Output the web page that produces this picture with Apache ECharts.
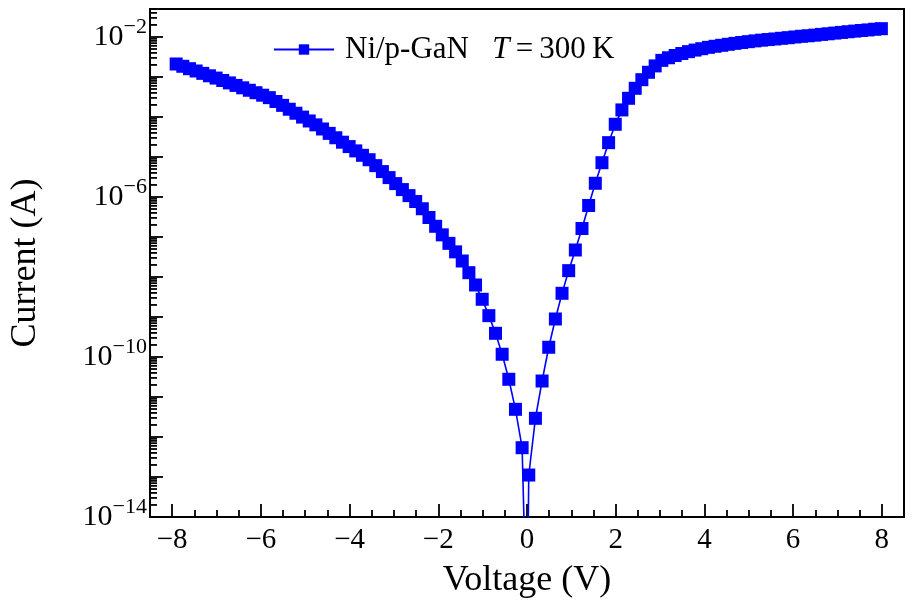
<!DOCTYPE html>
<html>
<head>
<meta charset="utf-8">
<script src="https://cdn.jsdelivr.net/npm/echarts@6/dist/echarts.min.js"></script>
<style>
html, body { margin: 0; padding: 0; background: #fff; }
#ivChart { width: 913px; height: 609px; }
</style>
</head>
<body>
<div id="ivChart"></div>
<script>
// Ni/p-GaN I-V curve at 300 K
const voltage = [
    -7.91, -7.76, -7.61, -7.46, -7.31, -7.16, -7.01, -6.86, -6.71, -6.56,
    -6.41, -6.26, -6.11, -5.96, -5.81, -5.66, -5.51, -5.36, -5.21, -5.06,
    -4.91, -4.76, -4.61, -4.46, -4.31, -4.16, -4.01, -3.86, -3.71, -3.56,
    -3.41, -3.26, -3.11, -2.96, -2.81, -2.66, -2.51, -2.36, -2.21, -2.06,
    -1.91, -1.76, -1.61, -1.46, -1.31, -1.16, -1.01, -0.86, -0.71, -0.56,
    -0.41, -0.26, -0.11, 0,
    0.04, 0.19, 0.34, 0.49, 0.64, 0.79, 0.94, 1.09, 1.24, 1.39,
    1.54, 1.69, 1.84, 1.99, 2.14, 2.29, 2.44, 2.59, 2.74, 2.89,
    3.04, 3.19, 3.34, 3.49, 3.64, 3.79, 3.94, 4.09, 4.24, 4.39,
    4.54, 4.69, 4.84, 4.99, 5.14, 5.29, 5.44, 5.59, 5.74, 5.89,
    6.04, 6.19, 6.34, 6.49, 6.64, 6.79, 6.94, 7.09, 7.24, 7.39,
    7.54, 7.69, 7.84, 7.99
];
const current = [
    2.11e-3, 1.85e-3, 1.61e-3, 1.41e-3, 1.23e-3, 1.07e-3, 9.38e-4, 8.17e-4, 7.10e-4, 6.15e-4,
    5.35e-4, 4.65e-4, 4.04e-4, 3.50e-4, 3.04e-4, 2.44e-4, 1.95e-4, 1.56e-4, 1.24e-4, 9.93e-5,
    7.94e-5, 6.35e-5, 5.01e-5, 3.89e-5, 3.02e-5, 2.34e-5, 1.82e-5, 1.42e-5, 1.10e-5, 8.53e-6,
    6.07e-6, 4.31e-6, 3.05e-6, 2.16e-6, 1.53e-6, 1.08e-6, 7.69e-7, 5.08e-7, 3.07e-7, 1.85e-7,
    1.13e-7, 6.93e-8, 4.25e-8, 2.51e-8, 1.28e-8, 6.31e-9, 2.77e-9, 1.08e-9, 3.91e-10, 1.17e-10,
    2.77e-11, 4.92e-12, 5.40e-13, 1e-17,
    1.12e-13, 2.93e-12, 2.51e-11, 1.75e-10, 8.91e-10, 3.91e-9, 1.44e-8, 4.73e-8, 1.63e-7, 6.12e-7,
    2.20e-6, 7.19e-6, 2.28e-5, 6.56e-5, 1.50e-4, 2.93e-4, 5.21e-4, 8.55e-4, 1.31e-3, 1.89e-3,
    2.60e-3, 3.02e-3, 3.44e-3, 3.86e-3, 4.29e-3, 4.70e-3, 5.09e-3, 5.50e-3, 5.85e-3, 6.19e-3,
    6.56e-3, 6.92e-3, 7.28e-3, 7.62e-3, 7.98e-3, 8.32e-3, 8.61e-3, 8.91e-3, 9.27e-3, 9.59e-3,
    1.00e-2, 1.04e-2, 1.07e-2, 1.11e-2, 1.16e-2, 1.20e-2, 1.25e-2, 1.30e-2, 1.35e-2, 1.40e-2,
    1.45e-2, 1.50e-2, 1.56e-2, 1.61e-2
];
const xTickLabels = [-8, -6, -4, -2, 0, 2, 4, 6, 8];
const yLabelExponents = [-14, -10, -6, -2];
const decadeExponents = [-14, -13, -12, -11, -10, -9, -8, -7, -6, -5, -4, -3, -2];
const minorMultipliers = [2, 3, 4, 5, 6, 7, 8, 9];

const xMin = -8.5, xMax = 8.5;
const yMin = 1e-14, yMax = 0.05;
const serif = '"Liberation Serif", "DejaVu Serif", serif';

let points = voltage.map((v, i) => [v, current[i]]);

// log minor ticks (2..9 x 10^n) on the left axis
let minorTicks = [];
decadeExponents.forEach(n => {
    minorMultipliers.forEach(k => {
        let v = k * Math.pow(10, n);
        if (v < yMax) minorTicks.push([xMin, v]);
    });
});

function minus(s) {
    return String(s).replace('-', '\u2212');
}

let myChart = echarts.init(document.getElementById('ivChart'));
let option = {
    animation: false,
    backgroundColor: '#fff',
    grid: {
        left: 150, right: 9, top: 9, bottom: 92,
        containLabel: false,
        outerBoundsMode: 'none',
        show: true,
        borderColor: '#000',
        borderWidth: 2
    },
    legend: {
        data: ['Ni/p-GaN'],
        left: 268,
        top: 29,
        itemWidth: 60,
        itemHeight: 13,
        formatter: function () {
            return 'Ni/p-GaN   {it|T}{n|\u2009=\u2009300\u2009K}';
        },
        textStyle: {
            fontFamily: serif,
            fontSize: 31,
            color: '#000',
            padding: [0, 0, 0, 6],
            rich: {
                it: { fontFamily: serif, fontSize: 31, fontStyle: 'italic', color: '#000' },
                n: { fontFamily: serif, fontSize: 31, color: '#000' }
            }
        }
    },
    xAxis: {
        type: 'value',
        min: xMin,
        max: xMax,
        splitNumber: 8,
        name: 'Voltage (V)',
        nameLocation: 'middle',
        nameGap: 46,
        nameTextStyle: { fontFamily: serif, fontSize: 36, color: '#000' },
        axisLine: { onZero: false, lineStyle: { color: '#000', width: 2 } },
        axisTick: { inside: true, length: 13, lineStyle: { color: '#000', width: 1.8 } },
        minorTick: { show: true, splitNumber: 4, length: 7, lineStyle: { color: '#000', width: 1.8 } },
        splitLine: { show: false },
        axisLabel: {
            margin: 9,
            showMinLabel: false,
            showMaxLabel: false,
            fontFamily: serif,
            fontSize: 29,
            color: '#000',
            formatter: function (value) {
                return xTickLabels.indexOf(value) >= 0 ? minus(value) : '';
            }
        }
    },
    yAxis: {
        type: 'log',
        logBase: 10,
        min: yMin,
        max: yMax,
        interval: 1,
        name: 'Current (A)',
        nameLocation: 'middle',
        nameGap: 106,
        nameTextStyle: { fontFamily: serif, fontSize: 36, color: '#000' },
        axisLine: { onZero: false, lineStyle: { color: '#000', width: 2 } },
        axisTick: { inside: true, length: 13, lineStyle: { color: '#000', width: 1.8 } },
        splitLine: { show: false },
        axisLabel: {
            margin: 3,
            fontFamily: serif,
            color: '#000',
            formatter: function (value) {
                let e = Math.log10(value);
                let n = Math.round(e);
                if (Math.abs(e - n) > 1e-6 || yLabelExponents.indexOf(n) < 0) return '';
                return '{b|10}{s|' + minus(n) + '}';
            },
            rich: {
                b: { fontFamily: serif, fontSize: 30, color: '#000' },
                s: { fontFamily: serif, fontSize: 22, color: '#000', verticalAlign: 'bottom', padding: [0, 0, 20, 0] }
            }
        }
    },
    series: [
        {
            name: 'Ni/p-GaN',
            type: 'line',
            data: points,
            symbol: 'rect',
            symbolSize: 13,
            clip: true,
            itemStyle: { color: '#0000ff' },
            lineStyle: { color: '#0000ff', width: 1.6 }
        },
        {
            name: 'minor',
            type: 'custom',
            silent: true,
            data: minorTicks,
            renderItem: function (params, api) {
                let p = api.coord([api.value(0), api.value(1)]);
                return {
                    type: 'line',
                    shape: { x1: p[0], y1: p[1], x2: p[0] + 7, y2: p[1] },
                    style: { stroke: '#000', lineWidth: 1.8 }
                };
            },
            z: 5
        }
    ]
};
myChart.setOption(option);
window.addEventListener('resize', function () {
    myChart.resize();
});
</script>
</body>
</html>
